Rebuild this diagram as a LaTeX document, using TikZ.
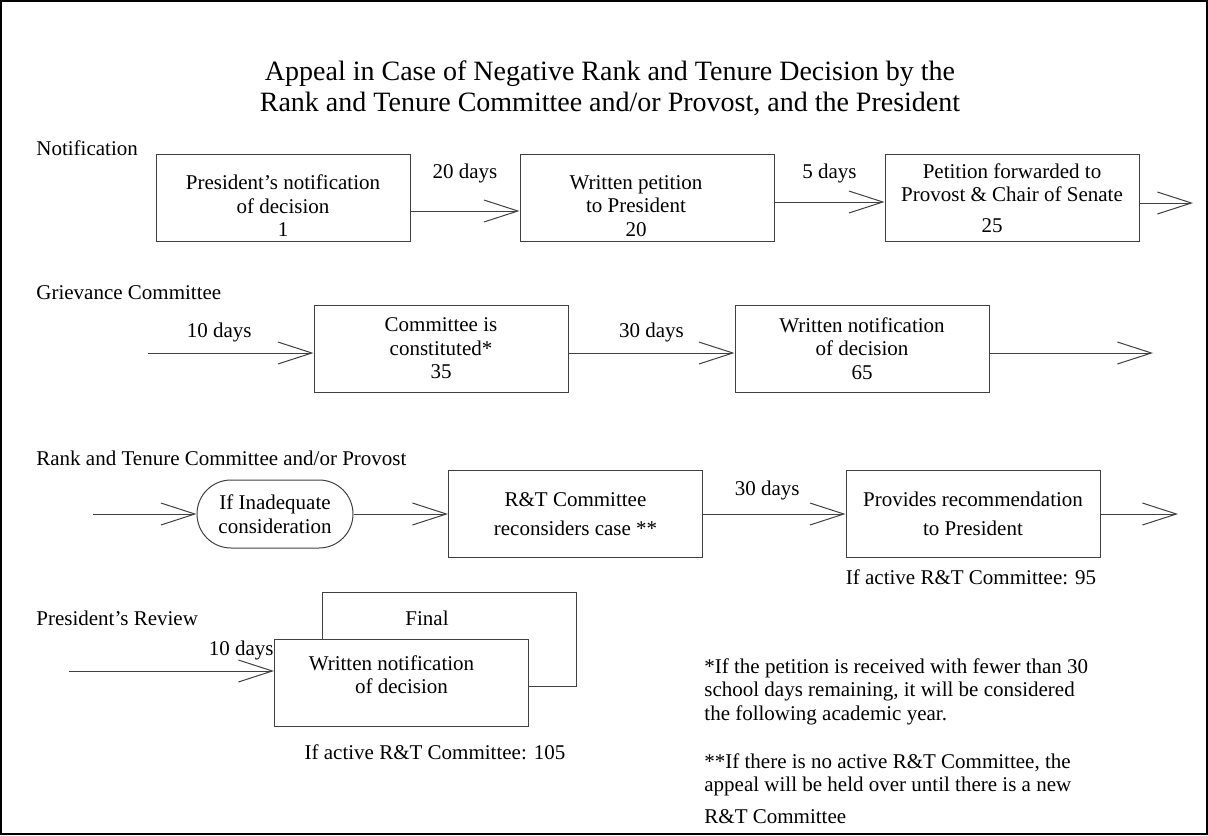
\documentclass[tikz,border=0pt]{standalone}
\usepackage{fontspec}
\setmainfont{Liberation Serif}
\usetikzlibrary{arrows.meta, shapes.misc}

\begin{document}
\begin{tikzpicture}[
            x=0.5pt, y=-0.5pt,
            font=\fontsize{10.5pt}{11.75pt}\selectfont,
            box/.style={draw=black!75, line width=0.5pt, fill=white, minimum width=127pt,
                        minimum height=43.5pt, align=center, inner sep=2pt},
            pill/.style={draw=black!75, rounded rectangle, line width=0.5pt, minimum width=80pt,
                         minimum height=34pt, align=center, inner sep=1pt},
            flow/.style={draw=black!75, line width=0.5pt, -{Straight Barb[length=17pt, width=11pt]}},
            lbl/.style={inner sep=0pt},
            head/.style={anchor=west, inner sep=0pt}
            ]
        \useasboundingbox (0,0) rectangle (1208,835);
        \draw[line width=1pt] (1,1) rectangle (1207,834);

        \node[font=\fontsize{14pt}{15.5pt}\selectfont, align=center] (title) at (610,88)
             {Appeal in Case of Negative Rank and Tenure Decision by the\\
              Rank and Tenure Committee and/or Provost, and the President};

        % notification
        \node[head] (hnotif) at (36,148) {Notification};
        \node[box] (pres) at (283,198) {\rule{0pt}{15pt}President's notification\\of decision\\1};
        \node[box] (petition) at (647,198) {\rule{0pt}{15pt}Written petition\rule{11pt}{0pt}\\to President\rule{11pt}{0pt}\\20\rule{11pt}{0pt}};
        \node[box] (forward) at (1012,198) {Petition forwarded to\\Provost \& Chair of Senate\\[3.5pt]25\rule{20pt}{0pt}};
        \coordinate (out1) at (1193,203);

        \draw[flow] ([yshift=-6.5pt]pres.east) -- node[lbl, yshift=19pt] (d20) {20 days} ([yshift=-6.5pt]petition.west);
        \draw[flow] ([yshift=-2pt]petition.east) -- node[lbl, yshift=14.5pt] (d5) {5 days} ([yshift=-2pt]forward.west);
        \draw[flow] ([yshift=-2.5pt]forward.east) -- (out1);

        % grievance committee
        \node[head] (hgriev) at (36,293) {Grievance Committee};
        \coordinate (in2) at (148,353);
        \node[box] (constit) at (441,348.5) {Committee is\\constituted*\\35};
        \node[box] (gnotify) at (862,348.5) {Written notification\\of decision\\65};
        \coordinate (out2) at (1153,353);

        \draw[flow] (in2) -- node[lbl, pos=0.43, yshift=10.5pt] (d10a) {10 days} ([yshift=-2.25pt]constit.west);
        \draw[flow] ([yshift=-2.25pt]constit.east) -- node[lbl, yshift=10.5pt] (d30a) {30 days} ([yshift=-2.25pt]gnotify.west);
        \draw[flow] ([yshift=-2.25pt]gnotify.east) -- (out2);

        % rank and tenure committee
        \node[head] (hrank) at (36,458) {Rank and Tenure Committee and/or Provost};
        \coordinate (in3) at (93,514);
        \node[pill] (incons) at (275,514) {If Inadequate\\consideration};
        \node[box] (reconsider) at (575.5,514) {R\&T Committee\\[3pt]reconsiders case **};
        \node[box] (recommend) at (973,514) {Provides recommendation\\[3pt]to President};
        \node[lbl] (act95) at (971,577) {If active R\&T Committee: 95};
        \coordinate (out3) at (1178,514);

        \draw[flow] (in3) -- (incons.west);
        \draw[flow] (incons.east) -- (reconsider.west);
        \draw[flow] (reconsider.east) -- node[lbl, pos=0.45, yshift=12pt] (d30b) {30 days} (recommend.west);
        \draw[flow] (recommend.east) -- (out3);

        % president's review
        \node[head] (hreview) at (36,618) {President's Review};
        \node[box, minimum height=47pt] (final) at (449.5,639) {};
        \node[lbl] (finaltxt) at (427,618) {Final};
        \node[box] (written) at (401.5,682.5) {Written notification\rule{10pt}{0pt}\\of decision\rule[-8pt]{0pt}{8pt}};
        \node[lbl] (act105) at (435,752) {If active R\&T Committee: 105};
        \coordinate (in4) at (69,671);

        \draw[flow] (in4) -- node[lbl, pos=0.84, yshift=10.5pt] (d10b) {10 days} ([yshift=5.75pt]written.west);

        % footnotes
        \node[lbl, anchor=north west, align=left] (note1) at (704,658)
             {*If the petition is received with fewer than 30\\
              school days remaining, it will be considered\\
              the following academic year.};
        \node[lbl, anchor=north west, align=left] (note2) at (704,753)
             {**If there is no active R\&T Committee, the\\
              appeal will be held over until there is a new\\[4pt]
              R\&T Committee};
    \end{tikzpicture}
\end{document}
